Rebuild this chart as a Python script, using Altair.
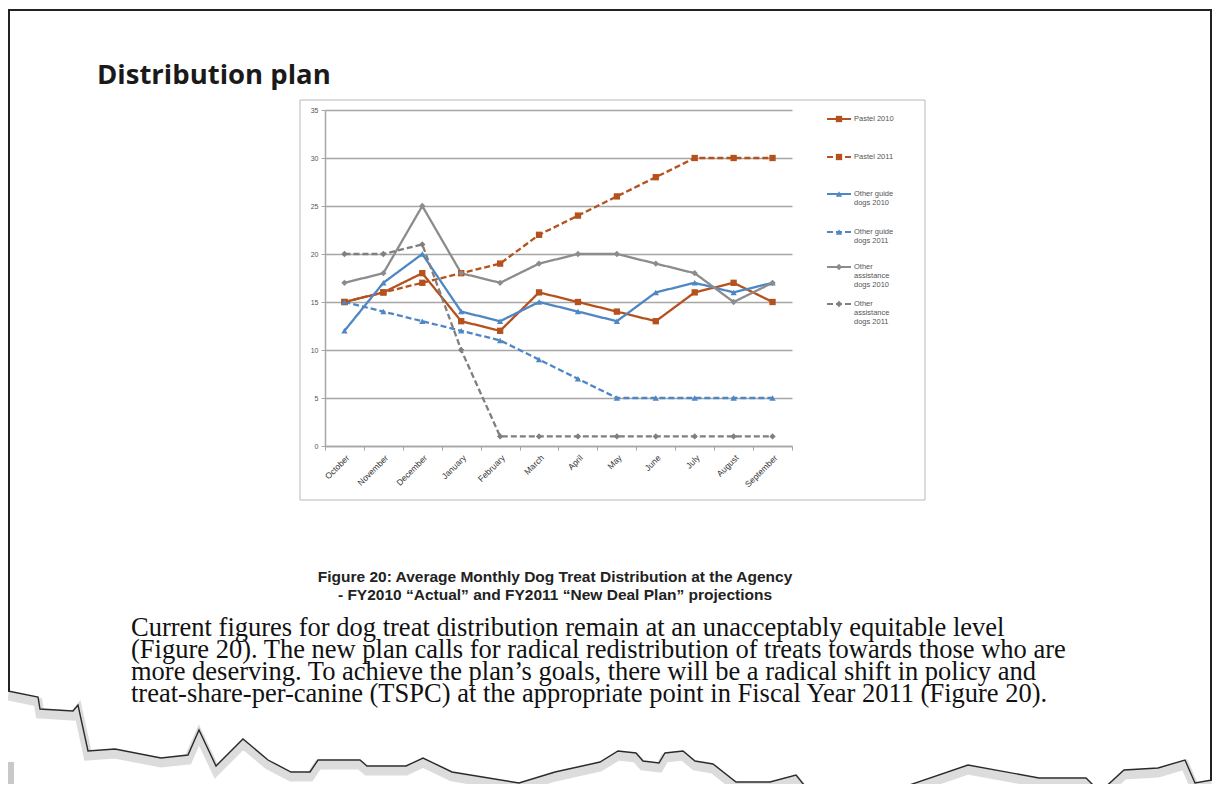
import altair as alt
import pandas as pd

# ---------------- data ----------------
months = ["October", "November", "December", "January", "February", "March",
          "April", "May", "June", "July", "August", "September"]

series_names = ["Pastel 2010", "Pastel 2011", "Other guide dogs 2010",
                "Other guide dogs 2011", "Other assistance dogs 2010",
                "Other assistance dogs 2011"]

pastel_2010 = [15, 16, 18, 13, 12, 16, 15, 14, 13, 16, 17, 15]
pastel_2011 = [15, 16, 17, 18, 19, 22, 24, 26, 28, 30, 30, 30]
guide_2010 = [12, 17, 20, 14, 13, 15, 14, 13, 16, 17, 16, 17]
guide_2011 = [15, 14, 13, 12, 11, 9, 7, 5, 5, 5, 5, 5]
assist_2010 = [17, 18, 25, 18, 17, 19, 20, 20, 19, 18, 15, 17]
assist_2011 = [20, 20, 21, 10, 1, 1, 1, 1, 1, 1, 1, 1]

legend_labels = ["Pastel 2010", "Pastel 2011", "Other guide\ndogs 2010",
                 "Other guide\ndogs 2011", "Other\nassistance\ndogs 2010",
                 "Other\nassistance\ndogs 2011"]

y_ticks = [0, 5, 10, 15, 20, 25, 30, 35]

title_text = ["Distribution plan"]
caption_text = ["Figure 20: Average Monthly Dog Treat Distribution at the Agency\n"
                "- FY2010 \u201cActual\u201d and FY2011 \u201cNew Deal Plan\u201d projections"]
body_text = ["Current figures for dog treat distribution remain at an unacceptably equitable level\n"
             "(Figure 20). The new plan calls for radical redistribution of treats towards those who are\n"
             "more deserving. To achieve the plan\u2019s goals, there will be a radical shift in policy and\n"
             "treat-share-per-canine (TSPC) at the appropriate point in Fiscal Year 2011 (Figure 20)."]

# decorative torn-paper edge (page pixel positions)
torn_x = [8, 38, 40, 73, 78, 88, 115, 161, 188, 199, 216, 243, 268, 291, 310, 318, 360,
          367, 406, 423, 452, 519, 555, 600, 618, 636, 643, 659, 665, 683, 695, 713,
          736, 770, 796, 808, 889, 968, 1039, 1086, 1100, 1124, 1158, 1185, 1195, 1212]
torn_y = [691, 697, 709, 711, 705, 751, 749, 758, 755, 730, 766, 739, 760, 772, 772, 760, 760,
          766, 766, 758, 772, 783, 772, 762, 751, 753, 761, 763, 753, 751, 761, 764,
          782, 782, 775, 790, 792, 765, 778, 778, 792, 770, 768, 760, 783, 780]

# ---------------- styles ----------------
colors = ["#b5511d", "#b5511d", "#4f86c4", "#4f86c4", "#8c8c8c", "#7f7f7f"]
dashes = [[1, 0], [6, 3], [1, 0], [6, 3], [1, 0], [6, 3]]
shapes = ["square", "square", "triangle-up", "triangle-up", "diamond", "diamond"]
sizes = [40, 40, 42, 42, 24, 24]

PL, PT, W, H = 325, 110, 467, 336          # plot area on the page
legend_rows_px = [119, 157, 194, 232, 267, 304]

rows = []
for name, vals in zip(series_names, [pastel_2010, pastel_2011, guide_2010,
                                      guide_2011, assist_2010, assist_2011]):
    for m, v in zip(months, vals):
        rows.append({"series": name, "month": m, "value": v})
df = pd.DataFrame(rows)

legend_df = pd.DataFrame({"series": series_names, "label": legend_labels,
                          "py": legend_rows_px})
torn_df = pd.DataFrame({"px": torn_x, "py": torn_y})

color_scale = alt.Scale(domain=series_names, range=colors)
dash_scale = alt.Scale(domain=series_names, range=dashes)
shape_scale = alt.Scale(domain=series_names, range=shapes)
size_scale = alt.Scale(domain=series_names, range=sizes)

x_axis = alt.Axis(title=None, grid=False, domainColor="#a6a6a6", domainWidth=1.5,
                  tickBand="extent", tickColor="#a6a6a6", tickSize=4, tickWidth=1,
                  labelAngle=315, labelFontSize=8.5, labelColor="#333333",
                  labelFont="Liberation Sans", labelPadding=3)
y_axis = alt.Axis(title=None, values=y_ticks, grid=True, gridColor="#a6a6a6",
                  gridWidth=1.5, domainColor="#a6a6a6", domainWidth=1.5,
                  tickColor="#a6a6a6", tickSize=4, labelFontSize=7,
                  labelColor="#555555", labelFont="Liberation Sans", labelPadding=3)

x_enc = alt.X("month:N", sort=months, bandPosition=0.5,
              scale=alt.Scale(type="band", paddingInner=0, paddingOuter=0), axis=x_axis)
y_enc = alt.Y("value:Q", scale=alt.Scale(domain=[0, 35], nice=False), axis=y_axis)

lines = alt.Chart(df).mark_line(strokeWidth=2.3).encode(
    x=x_enc, y=y_enc,
    color=alt.Color("series:N", scale=color_scale, legend=None),
    strokeDash=alt.StrokeDash("series:N", scale=dash_scale, legend=None),
)
points = alt.Chart(df).mark_point(filled=True, opacity=1).encode(
    x=x_enc, y=y_enc,
    color=alt.Color("series:N", scale=color_scale, legend=None),
    shape=alt.Shape("series:N", scale=shape_scale, legend=None),
    size=alt.Size("series:N", scale=size_scale, legend=None),
)
main = alt.layer(lines, points)

# ---------------- decoration group (page-pixel scales) ----------------
px_scale = alt.Scale(domain=[PL, PL + W], range=[0, W], nice=False, zero=False)
py_scale = alt.Scale(domain=[PT, PT + H], range=[0, H], nice=False, zero=False)

one = pd.DataFrame({"a": [0]})

frame = alt.Chart(one).mark_rect(fillOpacity=0, stroke="#b8b8b8", strokeWidth=1).encode(
    x=alt.value(300 - PL), x2=alt.value(925 - PL),
    y=alt.value(100 - PT), y2=alt.value(500 - PT))

border_top = alt.Chart(one).mark_rule(color="#222222", strokeWidth=2).encode(
    x=alt.value(8 - PL), x2=alt.value(1212 - PL), y=alt.value(10 - PT))
border_left = alt.Chart(one).mark_rule(color="#222222", strokeWidth=2).encode(
    x=alt.value(9 - PL), y=alt.value(10 - PT), y2=alt.value(692 - PT))
border_right = alt.Chart(one).mark_rule(color="#222222", strokeWidth=2).encode(
    x=alt.value(1211 - PL), y=alt.value(10 - PT), y2=alt.value(781 - PT))
corner_bar = alt.Chart(one).mark_rect(color="#c8c8c8").encode(
    x=alt.value(8 - PL), x2=alt.value(14 - PL),
    y=alt.value(762 - PT), y2=alt.value(784 - PT))

torn_shadow = alt.Chart(torn_df).transform_calculate(sy="datum.py + 5").mark_line(
    color="#c4c4c4", strokeWidth=9, opacity=0.6).encode(
    x=alt.X("px:Q", scale=px_scale, axis=None),
    y=alt.Y("sy:Q", scale=py_scale, axis=None))
torn_line = alt.Chart(torn_df).mark_line(color="#2a2a2a", strokeWidth=1.4).encode(
    x=alt.X("px:Q", scale=px_scale, axis=None),
    y=alt.Y("py:Q", scale=py_scale, axis=None))

leg_rule = alt.Chart(legend_df).mark_rule(strokeWidth=1.8).encode(
    x=alt.value(827 - PL), x2=alt.value(851 - PL),
    y=alt.Y("py:Q", scale=py_scale, axis=None),
    color=alt.Color("series:N", scale=color_scale, legend=None),
    strokeDash=alt.StrokeDash("series:N", scale=dash_scale, legend=None))
leg_pt = alt.Chart(legend_df).mark_point(filled=True, opacity=1).encode(
    x=alt.value(839 - PL),
    y=alt.Y("py:Q", scale=py_scale, axis=None),
    color=alt.Color("series:N", scale=color_scale, legend=None),
    shape=alt.Shape("series:N", scale=shape_scale, legend=None),
    size=alt.Size("series:N", scale=size_scale, legend=None))
leg_txt = alt.Chart(legend_df).mark_text(
    align="left", baseline="top", dy=-4, font="Liberation Sans", fontSize=7.5,
    color="#555555", lineBreak="\n", lineHeight=9).encode(
    x=alt.value(854 - PL), y=alt.Y("py:Q", scale=py_scale, axis=None), text="label:N")

title = alt.Chart(pd.DataFrame({"t": title_text})).mark_text(
    align="left", baseline="alphabetic", font="Open Sans", fontWeight="bold",
    fontSize=27.5, color="#1a1a1a").encode(
    x=alt.value(97 - PL), y=alt.value(84 - PT), text="t:N")

caption = alt.Chart(pd.DataFrame({"t": caption_text})).mark_text(
    align="center", baseline="alphabetic", font="Liberation Sans", fontWeight="bold",
    fontSize=15.5, color="#222222", lineBreak="\n", lineHeight=18).encode(
    x=alt.value(555 - PL), y=alt.value(582 - PT), text="t:N")

body = alt.Chart(pd.DataFrame({"t": body_text})).mark_text(
    align="left", baseline="alphabetic", font="Liberation Serif",
    fontSize=26.5, color="#111111", lineBreak="\n", lineHeight=22).encode(
    x=alt.value(131 - PL), y=alt.value(636 - PT), text="t:N")

decor = alt.layer(torn_shadow, torn_line, corner_bar, leg_rule, leg_pt, leg_txt)

chart = alt.layer(
    frame, border_top, border_left, border_right, title, caption, body, main, decor
).resolve_scale(x="independent", y="independent").properties(
    width=W, height=H, autosize="none",
    padding={"left": PL - 8, "top": PT - 8, "right": 1204 - (PL - 8) - W,
             "bottom": 776 - (PT - 8) - H},
    background="white",
).configure_view(strokeWidth=0)

chart.save("out.html", embed_options={"renderer": "svg", "actions": False})
